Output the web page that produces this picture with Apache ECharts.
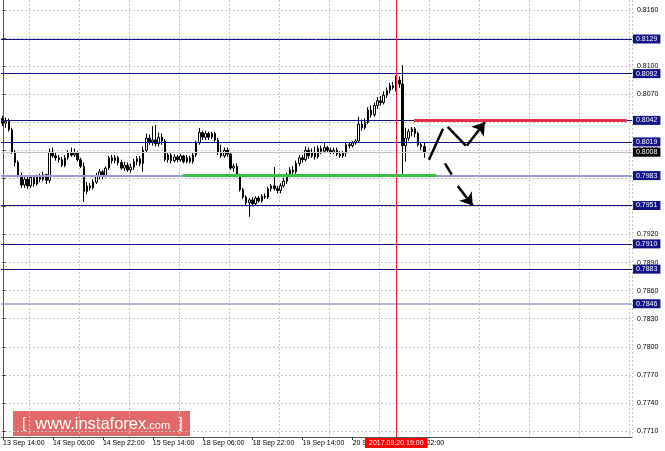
<!DOCTYPE html>
<html>
<head>
<meta charset="utf-8">
<script src="https://cdn.jsdelivr.net/npm/echarts@6/dist/echarts.min.js"></script>
<style>
html,body{margin:0;padding:0;background:#fff;}
#chart{width:665px;height:451px;}
</style>
</head>
<body>
<div id="chart"></div>
<script>
// ---------- data (H1 candles, prices) ----------
const tradingDays = ['13 Sep','14 Sep','15 Sep','18 Sep','19 Sep','20 Sep','21 Sep','22 Sep','25 Sep'];
const firstHour = 14;
const slotCount = 202; // hourly slots visible across the plot, incl. empty future area

const opens = [0.8044,0.8039,0.8041,0.8032,0.8008,0.7997,0.7983,0.7973,0.7979,0.7972,
0.7981,0.7974,0.7982,0.7979,0.7984,0.7978,0.8008,0.8004,0.8002,0.8000,
0.7994,0.8002,0.8007,0.8005,0.8007,0.8000,0.7993,0.7966,0.7972,0.7970,
0.7976,0.7982,0.7987,0.7983,0.7991,0.8002,0.7999,0.8002,0.7997,0.7991,
0.7994,0.7989,0.7992,0.7998,0.8001,0.7996,0.8010,0.8023,0.8019,0.8021,
0.8017,0.8024,0.8020,0.8000,0.8005,0.7999,0.8003,0.8000,0.8004,0.7998,
0.8002,0.7998,0.8005,0.8018,0.8029,0.8024,0.8028,0.8024,0.8028,0.8021,
0.8008,0.8004,0.8010,0.8006,0.7991,0.7993,0.7983,0.7968,0.7960,0.7954,
0.7957,0.7953,0.7959,0.7956,0.7961,0.7960,0.7969,0.7972,0.7969,0.7967,
0.7972,0.7977,0.7984,0.7989,0.7987,0.7996,0.8002,0.8000,0.8010,0.8004,
0.8008,0.8003,0.8012,0.8009,0.8013,0.8010,0.8008,0.8010,0.8006,0.8004,
0.8007,0.8016,0.8015,0.8018,0.8020,0.8038,0.8034,0.8040,0.8053,0.8048,
0.8058,0.8063,0.8061,0.8069,0.8074,0.8079,0.8077,0.8085,0.8081,0.8015,
0.8023,0.8030,0.8033,0.8028,0.8016,0.8014];
const closes = [0.8039,0.8041,0.8032,0.8008,0.7997,0.7983,0.7973,0.7979,0.7972,0.7981,
0.7974,0.7982,0.7979,0.7984,0.7978,0.8008,0.8004,0.8002,0.8000,0.7994,
0.8002,0.8007,0.8005,0.8007,0.8000,0.7993,0.7966,0.7972,0.7970,0.7976,
0.7982,0.7987,0.7983,0.7991,0.8002,0.7999,0.8002,0.7997,0.7991,0.7994,
0.7989,0.7992,0.7998,0.8001,0.7996,0.8010,0.8023,0.8019,0.8021,0.8017,
0.8024,0.8020,0.8000,0.8005,0.7999,0.8003,0.8000,0.8004,0.7998,0.8002,
0.7998,0.8005,0.8018,0.8029,0.8024,0.8028,0.8024,0.8028,0.8021,0.8008,
0.8004,0.8010,0.8006,0.7991,0.7993,0.7983,0.7968,0.7960,0.7954,0.7957,
0.7953,0.7959,0.7956,0.7961,0.7960,0.7969,0.7972,0.7969,0.7967,0.7972,
0.7977,0.7984,0.7989,0.7987,0.7996,0.8002,0.8000,0.8010,0.8004,0.8008,
0.8003,0.8012,0.8009,0.8013,0.8010,0.8008,0.8010,0.8006,0.8004,0.8007,
0.8016,0.8015,0.8018,0.8020,0.8038,0.8034,0.8040,0.8053,0.8048,0.8058,
0.8063,0.8061,0.8069,0.8074,0.8079,0.8077,0.8085,0.8081,0.8015,0.8023,
0.8030,0.8033,0.8028,0.8016,0.8014,0.8008];
const highs = [0.8047,0.8045,0.8044,0.8034,0.8010,0.7999,0.7986,0.7983,0.7982,0.7984,
0.7983,0.7984,0.7985,0.7987,0.7985,0.8012,0.8013,0.8007,0.8005,0.8003,
0.8005,0.8010,0.8013,0.8012,0.8009,0.8002,0.7997,0.7976,0.7975,0.7979,
0.7986,0.7990,0.7989,0.7993,0.8004,0.8005,0.8005,0.8004,0.8000,0.7998,
0.7997,0.7996,0.8001,0.8004,0.8004,0.8014,0.8028,0.8027,0.8036,0.8037,
0.8029,0.8028,0.8022,0.8007,0.8007,0.8006,0.8005,0.8006,0.8005,0.8005,
0.8004,0.8008,0.8020,0.8034,0.8031,0.8031,0.8030,0.8030,0.8030,0.8023,
0.8016,0.8013,0.8013,0.8008,0.7996,0.7996,0.7985,0.7970,0.7962,0.7959,
0.7960,0.7961,0.7961,0.7963,0.7964,0.7971,0.7974,0.7992,0.7972,0.7975,
0.7981,0.7986,0.7992,0.7993,0.7999,0.8005,0.8005,0.8014,0.8013,0.8012,
0.8014,0.8015,0.8015,0.8019,0.8015,0.8013,0.8013,0.8013,0.8009,0.8009,
0.8019,0.8019,0.8020,0.8022,0.8046,0.8043,0.8044,0.8056,0.8058,0.8061,
0.8067,0.8068,0.8073,0.8077,0.8082,0.8083,0.8090,0.8089,0.8101,0.8034,
0.8033,0.8035,0.8035,0.8030,0.8019,0.8018];
const lows = [0.8036,0.8034,0.8030,0.8006,0.7993,0.7981,0.7970,0.7970,0.7969,0.7970,
0.7971,0.7972,0.7976,0.7977,0.7974,0.7975,0.8002,0.7999,0.7997,0.7992,
0.7992,0.8000,0.8003,0.8003,0.7998,0.7991,0.7955,0.7963,0.7967,0.7968,
0.7974,0.7979,0.7979,0.7981,0.7989,0.7996,0.7996,0.7994,0.7989,0.7988,
0.7987,0.7986,0.7989,0.7994,0.7993,0.7987,0.8008,0.8016,0.8015,0.8014,
0.8014,0.8016,0.7998,0.7997,0.7996,0.7997,0.7997,0.7998,0.7996,0.7996,
0.7996,0.7996,0.8003,0.8016,0.8021,0.8021,0.8021,0.8022,0.8019,0.8005,
0.8002,0.8002,0.8003,0.7989,0.7987,0.7981,0.7966,0.7958,0.7951,0.7939,
0.7950,0.7951,0.7954,0.7954,0.7958,0.7958,0.7966,0.7967,0.7964,0.7964,
0.7970,0.7974,0.7981,0.7984,0.7985,0.7993,0.7997,0.7998,0.8001,0.8002,
0.8000,0.8001,0.8006,0.8007,0.8008,0.8006,0.8006,0.8004,0.8002,0.8002,
0.8003,0.8012,0.8013,0.8016,0.8018,0.8031,0.8032,0.8038,0.8045,0.8046,
0.8054,0.8058,0.8059,0.8066,0.8071,0.8075,0.8073,0.8077,0.7985,0.7998,
0.8020,0.8025,0.8024,0.8014,0.8010,0.8002];

// horizontal levels
const levels = [0.8129, 0.8092, 0.8042, 0.8019, 0.7951, 0.7910, 0.7883];
const softLevels = [0.7983, 0.7846];
const currentPrice = 0.8008;

// y axis ticks
const yMin = 0.7710, yMax = 0.8160, yStep = 0.0030;

// annotations: [slot position, price]
const resistanceSeg = [[131.7, 0.8042], [199.8, 0.8042]];
const supportSeg = [[57.7, 0.7983], [138.9, 0.7983]];
const upPath1 = [[136.5, 0.8000], [141.0, 0.8033]];
const upPath2 = [[142.5, 0.8035], [148.3, 0.8015]];
const upArrow = [[148.6, 0.8015], [154.4, 0.8040]];
const downPath = [[141.6, 0.7996], [143.8, 0.7984]];
const downArrow = [[145.7, 0.7972], [150.5, 0.7951]];
const crossSlot = 126;
const crossLabel = '2017.09.20 19:00';

// ---------- build ----------
const times = [];
(function(){
  for (let d = 0; d < tradingDays.length && times.length < slotCount; d++) {
    for (let h = (d === 0 ? firstHour : 0); h < 24 && times.length < slotCount; h++) {
      times.push(tradingDays[d] + ' ' + (h < 10 ? '0' + h : h) + ':00');
    }
  }
})();
const candles = opens.map((o, i) => [o, closes[i], lows[i], highs[i]]);

const FONT = 'Liberation Sans';
const navy = '#12128a';
const lavender = '#9a9ad6';
const gridCol = '#c6c6c6';

function levelLine(v, color, width, bg) {
  return {
    yAxis: v,
    lineStyle: { color: color, width: width, type: 'solid' },
    label: {
      show: true, position: 'end', distance: 1,
      formatter: v.toFixed(4),
      color: '#fff', backgroundColor: bg, padding: [1, 3, 0, 3],
      fontSize: 7, fontFamily: FONT, lineHeight: 8
    }
  };
}
const markData = []
  .concat(softLevels.map(v => levelLine(v, lavender, v === 0.7983 ? 2 : 1.5, navy)))
  .concat(levels.map(v => levelLine(v, navy, 1, navy)))
  .concat([levelLine(currentPrice, '#c4c4c4', 1, '#000')]);

const chart = echarts.init(document.getElementById('chart'), null, { renderer: 'canvas' });
const option = {
  animation: false,
  backgroundColor: '#ffffff',
  textStyle: { fontFamily: FONT },
  grid: [
    { left: 1, right: 33, top: 10, bottom: 20 },
    { left: 1, right: 33, top: 0, bottom: 14 }
  ],
  xAxis: [
    { type: 'category', gridIndex: 0, data: times, boundaryGap: true, show: false },
    {
      type: 'category', gridIndex: 1, data: times, boundaryGap: true,
      axisLine: { show: true, lineStyle: { color: '#555', width: 1 } },
      axisTick: { show: true, length: 3, alignWithLabel: true, interval: (i) => i % 16 === 0 && i < opens.length, lineStyle: { color: '#333' } },
      axisLabel: { show: true, interval: (i) => i % 16 === 0 && i < opens.length, align: 'left', margin: 3, fontSize: 7, color: '#000', fontFamily: FONT },
      splitLine: { show: true, interval: (i) => i % 16 === 9, lineStyle: { color: gridCol, type: [2, 2], width: 1 } }
    },
    { type: 'value', gridIndex: 0, min: -0.5, max: slotCount - 0.5, show: false },
    { type: 'value', gridIndex: 1, min: -0.5, max: slotCount - 0.5, show: false }
  ],
  yAxis: [
    {
      type: 'value', gridIndex: 0, position: 'right', min: yMin, max: yMax, interval: yStep,
      axisLine: { show: false },
      axisTick: { show: true, length: 3, lineStyle: { color: '#333' } },
      axisLabel: { show: true, margin: 5, fontSize: 7, color: '#000', fontFamily: FONT, formatter: (v) => v.toFixed(4) },
      splitLine: { show: true, lineStyle: { color: gridCol, type: [2, 2], width: 1 } }
    },
    {
      type: 'value', gridIndex: 1, position: 'right', min: 0, max: 1,
      axisLine: { show: true, lineStyle: { color: '#555', width: 1 } },
      axisTick: { show: false }, axisLabel: { show: false }, splitLine: { show: false }
    }
  ],
  series: [
    {
      type: 'line', xAxisIndex: 2, yAxisIndex: 0, data: [], silent: true, z: 1,
      markLine: { symbol: 'none', silent: true, animation: false, precision: 4, data: markData }
    },
    {
      type: 'candlestick', xAxisIndex: 0, yAxisIndex: 0, data: candles,
      barWidth: 2,
      itemStyle: { color: '#ffffff', color0: '#000000', borderColor: '#000000', borderColor0: '#000000', borderWidth: 1 },
      z: 3
    },
    {
      type: 'lines', coordinateSystem: 'cartesian2d', xAxisIndex: 2, yAxisIndex: 0,
      symbol: 'none', silent: true, z: 6,
      data: [
        { coords: supportSeg, lineStyle: { color: '#3cbf48', width: 3, opacity: 1 } },
        { coords: resistanceSeg, lineStyle: { color: '#e2304c', width: 3, opacity: 1 } },
        { coords: upPath1, lineStyle: { color: '#000', width: 2.5, opacity: 1 } },
        { coords: upPath2, lineStyle: { color: '#000', width: 2.5, opacity: 1 } },
        { coords: downPath, lineStyle: { color: '#000', width: 2.5, opacity: 1 } }
      ]
    },
    {
      type: 'lines', coordinateSystem: 'cartesian2d', xAxisIndex: 2, yAxisIndex: 0,
      symbol: ['none', 'arrow'], symbolSize: [9, 12], silent: true, z: 6,
      lineStyle: { color: '#000', width: 2.5, opacity: 1 },
      data: [ { coords: upArrow }, { coords: downArrow } ]
    },
    {
      type: 'line', xAxisIndex: 3, yAxisIndex: 1, data: [], silent: true, z: 4,
      markLine: {
        symbol: 'none', silent: true, animation: false, precision: 4,
        data: [{
          xAxis: crossSlot,
          lineStyle: { color: '#e8202a', width: 1, type: 'solid' },
          label: {
            show: true, position: 'start', distance: 1, formatter: crossLabel,
            color: '#fff', backgroundColor: '#ff0000', padding: [2, 4, 1, 4],
            fontSize: 7, fontFamily: FONT
          }
        }]
      }
    }
  ],
  graphic: [
    {
      type: 'group', left: 13, top: 411, z: 100,
      children: [
        { type: 'rect', shape: { x: 0, y: 0, width: 177, height: 25 }, style: { fill: '#df5c5c', opacity: 0.92 } },
        {
          type: 'text', x: 9, y: 13,
          style: {
            text: '{b|[}{w|  www.instaforex}{c|.com}{b|  ]}',
            verticalAlign: 'middle', fill: '#fff',
            rich: {
              b: { fontSize: 15, fill: '#fff', fontFamily: FONT },
              w: { fontSize: 16.5, fill: '#fff', fontFamily: FONT },
              c: { fontSize: 11, fill: '#fff', fontFamily: FONT, padding: [3, 0, 0, 0] }
            }
          }
        }
      ]
    }
  ]
};
chart.setOption(option);
</script>
</body>
</html>
